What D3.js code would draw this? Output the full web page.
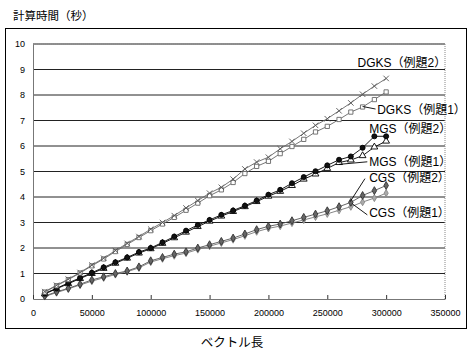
<!DOCTYPE html>
<html lang="ja">
<head>
<meta charset="UTF-8">
<title>計算時間とベクトル長</title>
<script src="https://d3js.org/d3.v7.min.js"></script>
<style>
  body { margin: 0; background: #fff; }
  text { font-family: "Liberation Sans", "Noto Sans CJK JP", sans-serif; }
</style>
</head>
<body>
<svg width="469" height="350"></svg>
<script>
  // x values (vector length)
  const vectorLength = [10000, 20000, 30000, 40000, 50000, 60000, 70000, 80000, 90000, 100000,
    110000, 120000, 130000, 140000, 150000, 160000, 170000, 180000, 190000, 200000,
    210000, 220000, 230000, 240000, 250000, 260000, 270000, 280000, 290000, 300000];

  // computation time (sec)
  const dgks2 = [0.29, 0.54, 0.78, 1.04, 1.33, 1.60, 1.90, 2.18, 2.45, 2.74,
    3.00, 3.27, 3.57, 3.86, 4.15, 4.38, 4.70, 5.10, 5.37, 5.56,
    5.89, 6.18, 6.50, 6.81, 7.07, 7.38, 7.69, 8.03, 8.35, 8.65];
  const dgks1 = [0.27, 0.52, 0.76, 1.02, 1.30, 1.57, 1.86, 2.14, 2.41, 2.68,
    2.94, 3.20, 3.48, 3.76, 4.05, 4.28, 4.57, 4.92, 5.20, 5.40,
    5.70, 5.98, 6.26, 6.55, 6.77, 7.04, 7.33, 7.53, 7.82, 8.12];
  const mgs2 = [0.22, 0.42, 0.63, 0.83, 1.03, 1.24, 1.44, 1.63, 1.84, 2.00,
    2.22, 2.45, 2.68, 2.90, 3.10, 3.30, 3.47, 3.66, 3.86, 4.09,
    4.28, 4.54, 4.78, 5.01, 5.24, 5.46, 5.59, 5.93, 6.38, 6.38];
  const mgs1 = [0.20, 0.40, 0.60, 0.80, 1.00, 1.20, 1.40, 1.60, 1.80, 1.97,
    2.18, 2.40, 2.62, 2.84, 3.05, 3.25, 3.43, 3.62, 3.82, 4.03,
    4.22, 4.45, 4.70, 4.90, 5.12, 5.35, 5.45, 5.62, 5.96, 6.19];
  const cgs2 = [0.12, 0.28, 0.42, 0.58, 0.75, 0.87, 1.00, 1.10, 1.26, 1.50,
    1.63, 1.76, 1.85, 2.00, 2.13, 2.26, 2.39, 2.55, 2.72, 2.85,
    2.94, 3.07, 3.20, 3.33, 3.46, 3.62, 3.79, 4.06, 4.25, 4.45];
  const cgs1 = [0.10, 0.25, 0.40, 0.55, 0.70, 0.83, 0.96, 1.07, 1.22, 1.45,
    1.58, 1.70, 1.80, 1.94, 2.07, 2.20, 2.33, 2.48, 2.64, 2.77,
    2.86, 2.98, 3.10, 3.22, 3.34, 3.48, 3.62, 3.80, 3.96, 4.15];

  const xTicks = [0, 50000, 100000, 150000, 200000, 250000, 300000, 350000];
  const yTicks = [0, 1, 2, 3, 4, 5, 6, 7, 8, 9, 10];

  const svg = d3.select("svg");
  const plot = { left: 33, right: 445, top: 44, bottom: 299 };

  const x = d3.scaleLinear().domain([0, 350000]).range([plot.left, plot.right]);
  const y = d3.scaleLinear().domain([0, 10]).range([plot.bottom, plot.top]);

  // outer chart border
  svg.append("rect")
    .attr("x", 5.5).attr("y", 28.5)
    .attr("width", 461).attr("height", 300)
    .attr("fill", "#fff").attr("stroke", "#000");

  // axis titles
  svg.append("text")
    .attr("x", 13).attr("y", 20)
    .attr("font-size", 11.5)
    .attr("font-family", "Noto Sans CJK JP")
    .text("計算時間（秒）");
  svg.append("text")
    .attr("x", 232).attr("y", 347)
    .attr("text-anchor", "middle")
    .attr("font-size", 12.5)
    .attr("font-family", "Noto Sans CJK JP")
    .text("ベクトル長");

  // horizontal gridlines
  svg.append("g").selectAll("line")
    .data(yTicks.filter(d => d > 0))
    .join("line")
    .attr("x1", plot.left).attr("x2", plot.right)
    .attr("y1", d => y(d)).attr("y2", d => y(d))
    .attr("stroke", "#222");

  // plot frame: right + top dotted
  svg.append("path")
    .attr("d", `M${plot.left},${plot.top}H${plot.right}V${plot.bottom}`)
    .attr("fill", "none")
    .attr("stroke", "#888")
    .attr("stroke-dasharray", "1,1");

  // y axis
  const yAxis = svg.append("g")
    .attr("transform", `translate(${plot.left},0)`)
    .call(d3.axisLeft(y).tickValues(yTicks).tickSize(0).tickPadding(8));
  yAxis.select(".domain").attr("stroke", "#777");
  yAxis.selectAll("text").attr("font-size", 9).attr("font-family", "Liberation Sans").attr("fill", "#000");

  // x axis (ticks drawn inward)
  const xAxis = svg.append("g")
    .attr("transform", `translate(0,${plot.bottom})`)
    .call(d3.axisBottom(x).tickValues(xTicks).tickFormat(d3.format("d"))
      .tickSizeInner(-4).tickSizeOuter(0).tickPadding(11));
  xAxis.select(".domain").attr("stroke", "#777");
  xAxis.selectAll(".tick line").attr("stroke", "#333");
  xAxis.selectAll("text").attr("font-size", 9).attr("font-family", "Liberation Sans").attr("fill", "#000");

  const times = {
    draw(ctx, size) {
      const r = Math.sqrt(size) / 2;
      ctx.moveTo(-r, -r); ctx.lineTo(r, r);
      ctx.moveTo(r, -r); ctx.lineTo(-r, r);
    }
  };

  const series = [
    { values: cgs1, line: "#777", symbol: d3.symbolDiamond, size: 15, fill: "#aaa", stroke: "#888" },
    { values: cgs2, line: "#555", symbol: d3.symbolDiamond, size: 18, fill: "#666", stroke: "#333" },
    { values: mgs1, line: "#000", symbol: d3.symbolTriangle, size: 20, fill: "#fff", stroke: "#000" },
    { values: mgs2, line: "#000", symbol: d3.symbolCircle, size: 20, fill: "#111", stroke: "#000" },
    { values: dgks1, line: "#666", symbol: d3.symbolSquare, size: 18, fill: "#fff", stroke: "#666" },
    { values: dgks2, line: "#666", symbol: times, size: 30, fill: "none", stroke: "#555" }
  ];

  const line = d3.line().x(d => x(d[0])).y(d => y(d[1]));

  series.forEach(s => {
    const pts = vectorLength.map((v, i) => [v, s.values[i]]);
    const g = svg.append("g");
    g.append("path")
      .attr("d", line(pts))
      .attr("fill", "none")
      .attr("stroke", s.line)
      .attr("stroke-width", 0.9);
    g.selectAll("path.m")
      .data(pts)
      .join("path")
      .attr("class", "m")
      .attr("transform", d => `translate(${x(d[0])},${y(d[1])})`)
      .attr("d", d3.symbol().type(s.symbol).size(s.size))
      .attr("fill", s.fill)
      .attr("stroke", s.stroke)
      .attr("stroke-width", 0.9);
  });

  // series labels, anchored in data units
  const labels = [
    { text: "DGKS（例題2）", x: 351000, y: 9.27, anchor: "end" },
    { text: "DGKS（例題1）", x: 292400, y: 7.44, anchor: "start", from: [280000, 7.55], to: [291000, 7.45] },
    { text: "MGS（例題2）", x: 285600, y: 6.69, anchor: "start" },
    { text: "MGS（例題1）", x: 285600, y: 5.38, anchor: "start", from: [260000, 5.28], to: [284000, 5.38] },
    { text: "CGS（例題2）", x: 285600, y: 4.75, anchor: "start", from: [269500, 3.82], to: [282000, 4.72] },
    { text: "CGS（例題1）", x: 285600, y: 3.37, anchor: "start", from: [271000, 3.74], to: [284000, 3.3] }
  ];

  labels.forEach(l => {
    if (l.from) {
      svg.append("line")
        .attr("x1", x(l.from[0])).attr("y1", y(l.from[1]))
        .attr("x2", x(l.to[0])).attr("y2", y(l.to[1]))
        .attr("stroke", "#000").attr("stroke-width", 0.9);
    }
    svg.append("text")
      .attr("x", x(l.x)).attr("y", y(l.y))
      .attr("dy", "0.36em")
      .attr("text-anchor", l.anchor)
      .attr("font-size", 12)
      .text(l.text);
  });
</script>
</body>
</html>
